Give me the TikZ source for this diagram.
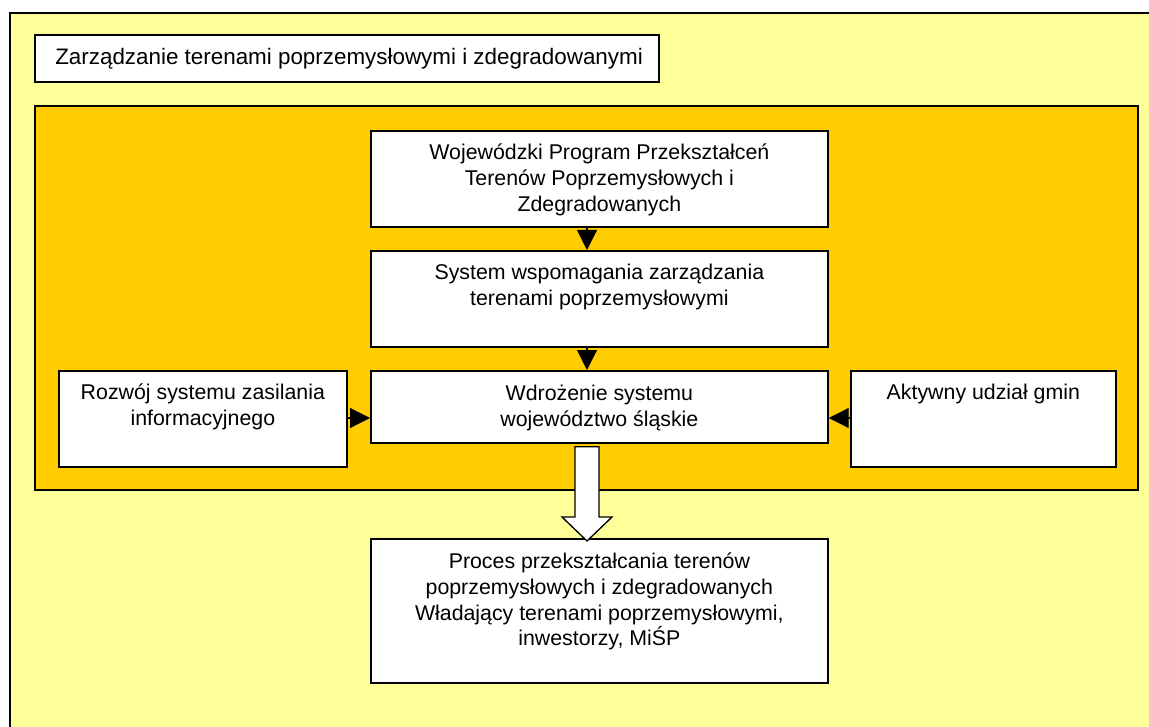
\documentclass[tikz,border=0pt]{standalone}
\usepackage{fontspec}
\setmainfont{Liberation Sans}
\usetikzlibrary{arrows.meta,calc}
\definecolor{paleyellow}{HTML}{FFFF99}
\definecolor{amber}{HTML}{FFCC00}
\begin{document}
\begin{tikzpicture}[x=0.75pt,y=-0.75pt,
  box/.style={draw=black,line width=1.3pt,fill=white,inner sep=0pt,anchor=north west},
  txt/.style={align=center,inner sep=0pt,anchor=north,
    font=\fontsize{16pt}{19.2pt}\selectfont},
  flow/.style={line width=0.8pt,-{Triangle[length=15pt,width=15pt]}}]
\clip (0,0) rectangle (1149,727);
\fill[white] (0,0) rectangle (1149,727);
% outer frame, running past the page edge on the right and bottom
\draw[line width=1.6pt,fill=paleyellow] (10,13) rectangle (1175,760);
% heading
\node[box,minimum width=624*0.75pt,minimum height=47*0.75pt] (head) at (34,34) {};
\node[txt,anchor=base west,font=\fontsize{16.8pt}{20pt}\selectfont] (headtxt) at (55,65) {Zarządzanie terenami poprzemysłowymi i zdegradowanymi};
% amber panel
\draw[line width=1.3pt,fill=amber] (35,106) rectangle (1138,490);
% boxes; text starts a fixed distance below each top edge
\node[box,minimum width=457*0.75pt,minimum height=96*0.75pt] (prog) at (370,130) {};
\node[txt] (progtxt) at ($(prog.north)+(0,14)$) {Wojewódzki Program Przekształceń\\Terenów Poprzemysłowych i\\Zdegradowanych};
\node[box,minimum width=457*0.75pt,minimum height=96*0.75pt] (sys) at (370,250) {};
\node[txt] (systxt) at ($(sys.north)+(0,14)$) {System wspomagania zarządzania\\terenami poprzemysłowymi};
\node[box,minimum width=457*0.75pt,minimum height=72*0.75pt] (impl) at (370,370) {};
\node[txt] (impltxt) at ($(impl.north)+(0,15)$) {Wdrożenie systemu\\województwo śląskie};
\node[box,minimum width=288*0.75pt,minimum height=96*0.75pt] (feed) at (58,370) {};
\node[txt] (feedtxt) at ($(feed.north)+(0,14)$) {Rozwój systemu zasilania\\informacyjnego};
\node[box,minimum width=265*0.75pt,minimum height=96*0.75pt] (gmin) at (850,370) {};
\node[txt] (gmintxt) at ($(gmin.north)+(0,14)$) {Aktywny udział gmin};
\node[box,minimum width=457*0.75pt,minimum height=144*0.75pt] (proc) at (370,538) {};
\node[txt] (proctxt) at ($(proc.north)+(0,15)$) {Proces przekształcania terenów\\poprzemysłowych i zdegradowanych\\Władający terenami poprzemysłowymi,\\inwestorzy, MiŚP};
% connectors
\coordinate (axis) at (587,0);
\coordinate (row) at (0,418);
\draw[flow] (prog.south -| axis) -- (sys.north -| axis);
\draw[flow] (sys.south -| axis) -- (impl.north -| axis);
\draw[flow] (feed.east |- row) -- (impl.west |- row);
\draw[flow] (gmin.west |- row) -- (impl.east |- row);
% hollow block arrow
\coordinate (hs) at ($(impl.south -| axis)+(0,3)$);
\coordinate (ht) at ($(proc.north -| axis)+(0,3)$);
\draw[line width=1pt,fill=white,line join=miter]
  ($(hs)+(-12,0)$) -- ($(hs)+(12,0)$) -- ($(ht)+(12,-24)$) -- ($(ht)+(25,-24)$)
  -- (ht) -- ($(ht)+(-25,-24)$) -- ($(ht)+(-12,-24)$) -- cycle;
\end{tikzpicture}
\end{document}
